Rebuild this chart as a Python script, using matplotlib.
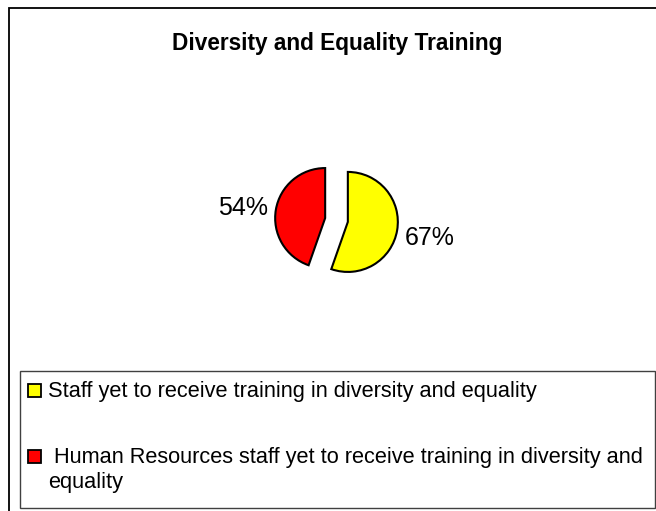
import matplotlib
matplotlib.use("Agg")
import matplotlib.pyplot as plt
from matplotlib.patches import Rectangle

# data
values = [67, 54]
slice_labels = [f"{v}%" for v in values]
colors = ["#FFFF00", "#FF0000"]
legend_labels = [
    ["Staff yet to receive training in diversity and equality"],
    [" Human Resources staff yet to receive training in diversity and",
     "equality"],
]
title = "Diversity and Equality Training"

W, H = 656, 511
plt.rcParams["font.family"] = ["Liberation Sans", "DejaVu Sans"]

fig = plt.figure(figsize=(W / 100, H / 100), dpi=100)
ax = fig.add_axes([0, 0, 1, 1])

# pie, drawn in pixel-like coords (y up); explode is in data units here
wedges, texts = ax.pie(
    values,
    labels=slice_labels,
    colors=colors,
    startangle=90,
    counterclock=False,
    explode=[11.5, 11.5],
    radius=50,
    center=(336.5, H - 220),
    labeldistance=1.15,
    textprops={"fontsize": 18},
    wedgeprops={"edgecolor": "black", "linewidth": 1.5},
)
# pie picks alignment from absolute x, fix it relative to the centre
texts[0].set_ha("left")
texts[1].set_ha("right")
# the 67% label sits a little lower in the original
x0, y0 = texts[0].get_position()
texts[0].set_position((x0, y0 - 6))
ax.set_xlim(0, W)
ax.set_ylim(0, H)
ax.set_aspect("auto")
ax.axis("off")

# title
ax.text(337.5, H - 49.5, title, ha="center", va="baseline",
        fontsize=16.3, fontweight="bold")

# outer frame (runs off the right/bottom edge like the original)
ax.add_patch(Rectangle((9, -20), 700, H - 8 + 20, fill=False,
                       edgecolor="black", linewidth=1.3, clip_on=False))

# legend box
ax.add_patch(Rectangle((20, H - 508), 635, 137, fill=False,
                       edgecolor="#404040", linewidth=1.0))
baselines = [397, 463]
for lines, col, yb in zip(legend_labels, colors, baselines):
    ax.add_patch(Rectangle((28, H - yb), 13, 13, facecolor=col,
                           edgecolor="black", linewidth=1.3))
    for i, line in enumerate(lines):
        ax.text(48, H - yb - 25 * i, line, ha="left", va="baseline",
                fontsize=15.7)

fig.savefig("out.png", dpi=100)
